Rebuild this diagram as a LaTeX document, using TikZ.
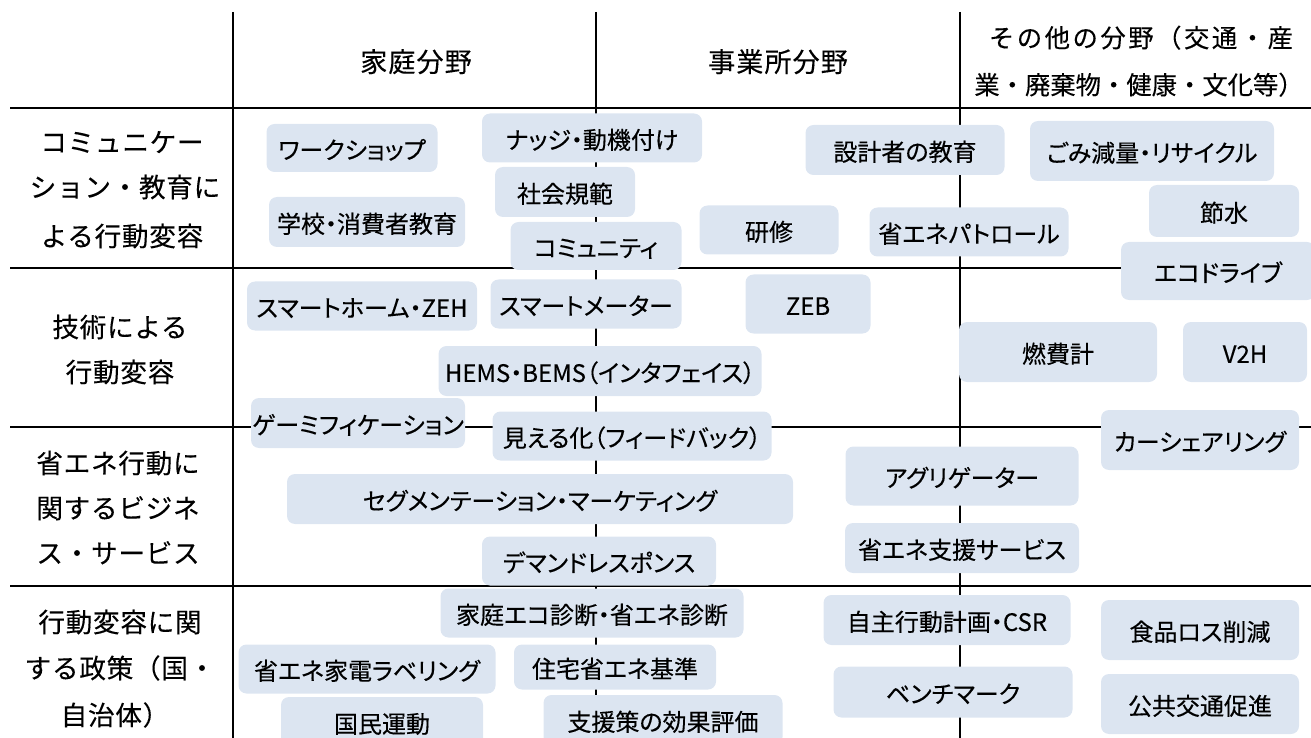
\documentclass[tikz,border=0pt]{standalone}
\usepackage{fontspec}
\setmainfont{Noto Sans CJK JP}
\newfontfamily\boxfont[FakeBold=0.3,RawFeature=+palt]{Noto Sans CJK JP}
\newfontfamily\lblfont[FakeBold=0.2,LetterSpace=2.5]{Noto Sans CJK JP}
\newfontfamily\hdrfont[FakeBold=0.2,LetterSpace=4]{Noto Sans CJK JP}
\newfontfamily\hdrwidefont[FakeBold=0.2,LetterSpace=10]{Noto Sans CJK JP}
\newfontfamily\hdrnarrowfont[FakeBold=0.2]{Noto Sans CJK JP}
\definecolor{boxfill}{RGB}{220,229,241}
\begin{document}
\begin{tikzpicture}[x=0.75pt,y=-0.75pt,
  bx/.style 2 args={fill=boxfill, rounded corners=6pt, minimum width=#1*0.75pt, minimum height=#2*0.75pt, inner sep=0pt, font=\boxfont\fontsize{18pt}{20pt}\selectfont, text height=17.2pt, text depth=0.8pt},
  lbl/.style={font=\lblfont\fontsize{20pt}{22pt}\selectfont, inner sep=0pt, text height=17.6pt, text depth=2.4pt},
  hdr/.style={font=\hdrfont\fontsize{20.3pt}{22pt}\selectfont, inner sep=0pt, text height=17.6pt, text depth=2.7pt},
  hdrw/.style={font=\hdrwidefont\fontsize{19pt}{22pt}\selectfont, inner sep=0pt, text height=16.5pt, text depth=2.5pt},
  hdrn/.style={font=\hdrnarrowfont\fontsize{19pt}{22pt}\selectfont, inner sep=0pt, text height=16.5pt, text depth=2.5pt},
  hgrid/.style={line width=2.2pt},
  vgrid/.style={line width=1.6pt}]
\useasboundingbox (0,0) rectangle (1311,738);
\clip (0,0) rectangle (1311,738);
% grid
\draw[vgrid] (233,12) -- (233,738);
\draw[vgrid] (596,12) -- (596,738);
\draw[vgrid] (960,12) -- (960,738);
\draw[hgrid] (10,108) -- (1311,108);
\draw[hgrid] (10,268) -- (1311,268);
\draw[hgrid] (10,427) -- (1311,427);
\draw[hgrid] (10,586) -- (1311,586);
% headers
\node[hdr] (h1) at (416,62) {家庭分野};
\node[hdr] (h2) at (778,62) {事業所分野};
\node[hdrw] (h3a) at (1141,38) {その他の分野（交通・産};
\node[hdrn] (h3b) at (1139,85) {業・廃棄物・健康・文化等）};
% row labels
\node[lbl] (r1a) at (122,142) {コミュニケー};
\node[lbl] (r1b) at (125,187) {ション・教育に};
\node[lbl] (r1c) at (122,236) {よる行動変容};
\node[lbl] (r2a) at (120,327) {技術による};
\node[lbl] (r2b) at (120,372) {行動変容};
\node[lbl] (r3a) at (118,463) {省エネ行動に};
\node[lbl] (r3b) at (118,508) {関するビジネ};
\node[lbl] (r3c) at (118,553) {ス・サービス};
\node[lbl] (r4a) at (120,622) {行動変容に関};
\node[lbl] (r4b) at (120,668) {する政策（国・};
\node[lbl] (r4c) at (115,715) {自治体）};
% boxes
\node[bx={171}{48}] (ws) at (352,148) {ワークショップ};
\node[bx={220}{49}] (nudge) at (592,138) {ナッジ・動機付け};
\node[bx={140}{50}] (norm) at (565,192) {社会規範};
\node[bx={196}{50}] (school) at (367,222) {学校・消費者教育};
\node[bx={171}{48}] (comm) at (596,246) {コミュニティ};
\node[bx={139}{49}] (train) at (769,230) {研修};
\node[bx={199}{50}] (design) at (905,150) {設計者の教育};
\node[bx={199}{49}] (patrol) at (969,232) {省エネパトロール};
\node[bx={244}{60}] (waste) at (1152,151) {ごみ減量・リサイクル};
\node[bx={150}{52}] (water) at (1224,211) {節水};
\node[bx={194}{58}] (ecod) at (1218,271) {エコドライブ};
\node[bx={230}{49}] (smh) at (362,306) {スマートホーム・ZEH};
\node[bx={191}{49}] (smm) at (586,304) {スマートメーター};
\node[bx={125}{59}] (zeb) at (808,304) {ZEB};
\node[bx={323}{50}] (hems) at (600,371) {HEMS・BEMS（インタフェイス）};
\node[bx={198}{60}] (fuel) at (1058,352) {燃費計};
\node[bx={124}{60}] (v2h) at (1245,352) {V2H};
\node[bx={214}{50}] (game) at (358,423) {ゲーミフィケーション};
\node[bx={279}{49}] (vis) at (632,436) {見える化（フィードバック）};
\node[bx={198}{60}] (car) at (1200,440) {カーシェアリング};
\node[bx={233}{59}] (agg) at (962,476) {アグリゲーター};
\node[bx={506}{50}] (seg) at (540,499) {セグメンテーション・マーケティング};
\node[bx={234}{50}] (ess) at (962,548) {省エネ支援サービス};
\node[bx={234}{49}] (dr) at (599,561) {デマンドレスポンス};
\node[bx={303}{49}] (diag) at (592,613) {家庭エコ診断・省エネ診断};
\node[bx={247}{50}] (csr) at (947,620) {自主行動計画・CSR};
\node[bx={198}{60}] (food) at (1200,630) {食品ロス削減};
\node[bx={257}{49}] (label) at (367,669) {省エネ家電ラベリング};
\node[bx={202}{45}] (house) at (615,667) {住宅省エネ基準};
\node[bx={239}{51}] (bench) at (953,692) {ベンチマーク};
\node[bx={198}{60}] (transit) at (1200,704) {公共交通促進};
\node[bx={202}{50}] (natl) at (382,722) {国民運動};
\node[bx={239}{50}] (eval) at (663,720) {支援策の効果評価};
\end{tikzpicture}
\end{document}
